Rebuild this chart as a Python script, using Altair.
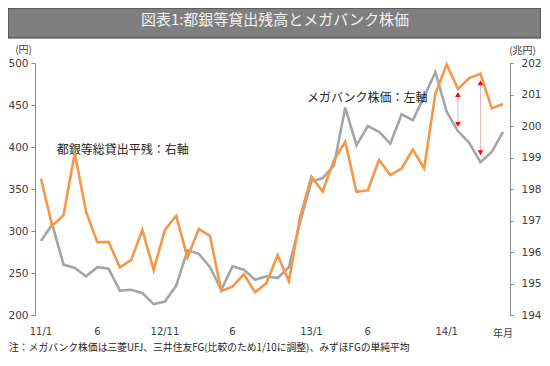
import altair as alt
import pandas as pd

# ---- data ----
idx = list(range(42))  # 2011/1 .. 2014/6 monthly
stock = [288, 308, 260, 256, 246, 257, 255, 229, 230, 226,
         213, 216, 235, 277, 273, 257, 230, 258, 254, 242,
         246, 244, 257, 311, 359, 363, 378, 447, 402, 425,
         418, 404, 439, 432, 460, 489, 442, 419, 405, 382,
         394, 418]
loans = [198.33, 196.83, 197.17, 199.14, 197.28, 196.31, 196.32, 195.51, 195.74, 196.70,
         195.43, 196.70, 197.15, 195.82, 196.73, 196.51, 194.76, 194.90, 195.30, 194.72,
         195.01, 195.90, 195.08, 197.12, 198.39, 197.92, 198.92, 199.50, 197.91, 197.96,
         198.92, 198.44, 198.65, 199.25, 198.65, 201.03, 201.95, 201.17, 201.52, 201.66,
         200.56, 200.70]

tick_pos = [0, 5, 11, 17, 24, 29, 36]
tick_text = ["11/1", "6", "12/11", "6", "13/1", "6", "14/1"]

ann_x = [1.4, 23.6]
ann_v = [396, 458]
ann_text = ["都銀等総貸出平残：右軸", "メガバンク株価：左軸"]

arrow_x = [37, 39]
arrow_top = [462.5, 476.5]
arrow_bot = [426.9, 393.2]

title_text = "図表1:都銀等貸出残高とメガバンク株価"
note_text = "注：メガバンク株価は三菱UFJ、三井住友FG(比較のため1/10に調整)、みずほFGの単純平均"

W, H = 475, 252
JP = "Noto Sans CJK JP"
LAT = "DejaVu Sans"
AX = "#868686"
TX = "#404040"

df = pd.DataFrame({"i": idx, "stock": stock, "loans": loans})
ticks_df = pd.DataFrame({"i": tick_pos, "lab": tick_text})
ann_df = pd.DataFrame({"i": ann_x, "v": ann_v, "lab": ann_text})
arr_df = pd.DataFrame({"i": arrow_x, "top": arrow_top, "bot": arrow_bot})

xscale = alt.Scale(domain=[-0.53, 41.62], nice=False, zero=False)
x_axis = alt.Axis(values=idx, labels=False, ticks=True, tickSize=3, tickColor=AX,
                  domainColor=AX, title=None, grid=False)


def lscale():
    return alt.Scale(domain=[200, 500], nice=False, zero=False)


rscale = alt.Scale(domain=[194, 202], nice=False, zero=False)

# background title bar (drawn first)
tdf = pd.DataFrame({"t": [title_text]})
bar = alt.Chart(tdf).mark_rect(fill="#7f7f7f", stroke="#3a3a3a", strokeWidth=1).encode(
    x=alt.value(-27), x2=alt.value(W + 31), y=alt.value(-55), y2=alt.value(-25))
ttl = alt.Chart(tdf).mark_text(align="center", baseline="middle", font=JP, fontSize=15,
                               color="#f2f2f2").encode(
    x=alt.value(240), y=alt.value(-43), text="t:N")

gray = alt.Chart(df).mark_line(color="#a5a5a5", strokeWidth=2.6).encode(
    x=alt.X("i:Q", scale=xscale, axis=x_axis),
    y=alt.Y("stock:Q", scale=lscale(),
            axis=alt.Axis(orient="left", values=list(range(200, 501, 50)), tickSize=4,
                          labelPadding=3, grid=False, domainColor=AX, tickColor=AX,
                          labelFont=LAT, labelFontSize=10.5, labelColor=TX,
                          title="(円)", titleAngle=0, titleX=-12, titleY=-14,
                          titleAlign="center", titleBaseline="middle", titleFont=JP,
                          titleFontSize=10, titleFontWeight="normal", titleColor=TX)),
)

orange = alt.Chart(df).mark_line(color="#f79646", strokeWidth=2.6).encode(
    x=alt.X("i:Q", scale=xscale, axis=None),
    y=alt.Y("loans:Q", scale=rscale,
            axis=alt.Axis(orient="right", values=list(range(194, 203)), tickSize=3,
                          labelPadding=8, grid=False, domainColor=AX, tickColor=AX,
                          labelFont=LAT, labelFontSize=10.5, labelColor=TX,
                          title="(兆円)", titleAngle=0, titleX=12, titleY=-13,
                          titleAlign="center", titleBaseline="middle", titleFont=JP,
                          titleFontSize=10, titleFontWeight="normal", titleColor=TX)),
)

rule = alt.Chart(arr_df).mark_rule(color="#e8b4b4", strokeWidth=1).encode(
    x=alt.X("i:Q", scale=xscale, axis=None),
    y=alt.Y("top:Q", scale=lscale(), axis=None),
    y2="bot:Q",
)
tri_up = alt.Chart(arr_df).mark_point(shape="triangle-up", filled=True, color="#ff0000",
                                      size=32, opacity=1).encode(
    x=alt.X("i:Q", scale=xscale, axis=None),
    y=alt.Y("top:Q", scale=lscale(), axis=None),
)
tri_dn = alt.Chart(arr_df).mark_point(shape="triangle-down", filled=True, color="#ff0000",
                                      size=32, opacity=1).encode(
    x=alt.X("i:Q", scale=xscale, axis=None),
    y=alt.Y("bot:Q", scale=lscale(), axis=None),
)
ann = alt.Chart(ann_df).mark_text(align="left", baseline="middle", font=JP,
                                  fontSize=12, color="#262626").encode(
    x=alt.X("i:Q", scale=xscale, axis=None),
    y=alt.Y("v:Q", scale=lscale(), axis=None),
    text="lab:N",
)

xlabels = alt.Chart(ticks_df).mark_text(align="center", baseline="middle", font=LAT,
                                        fontSize=10, color=TX).encode(
    x=alt.X("i:Q", scale=xscale, axis=None),
    y=alt.value(H + 17),
    text="lab:N",
)
ym = alt.Chart(pd.DataFrame({"i": [41], "lab": ["年月"]})).mark_text(
    align="center", baseline="middle", font=JP, fontSize=10, color=TX).encode(
    x=alt.X("i:Q", scale=xscale, axis=None),
    y=alt.value(H + 19),
    text="lab:N",
)
note = alt.Chart(pd.DataFrame({"t": [note_text]})).mark_text(
    align="left", baseline="middle", font=JP, fontSize=9.8, color="#262626").encode(
    x=alt.value(-26), y=alt.value(H + 33), text="t:N")

chart = alt.layer(bar, ttl, gray, rule, tri_up, tri_dn, ann, orange, xlabels, ym, note
                  ).resolve_scale(y="independent").properties(
    width=W, height=H,
    autosize=alt.AutoSizeParams(type="none"),
    padding={"left": 27, "top": 55, "right": 31, "bottom": 39},
    background="white",
).configure_view(stroke=None)

chart.save("out.html", embed_options={"renderer": "svg", "actions": False})
